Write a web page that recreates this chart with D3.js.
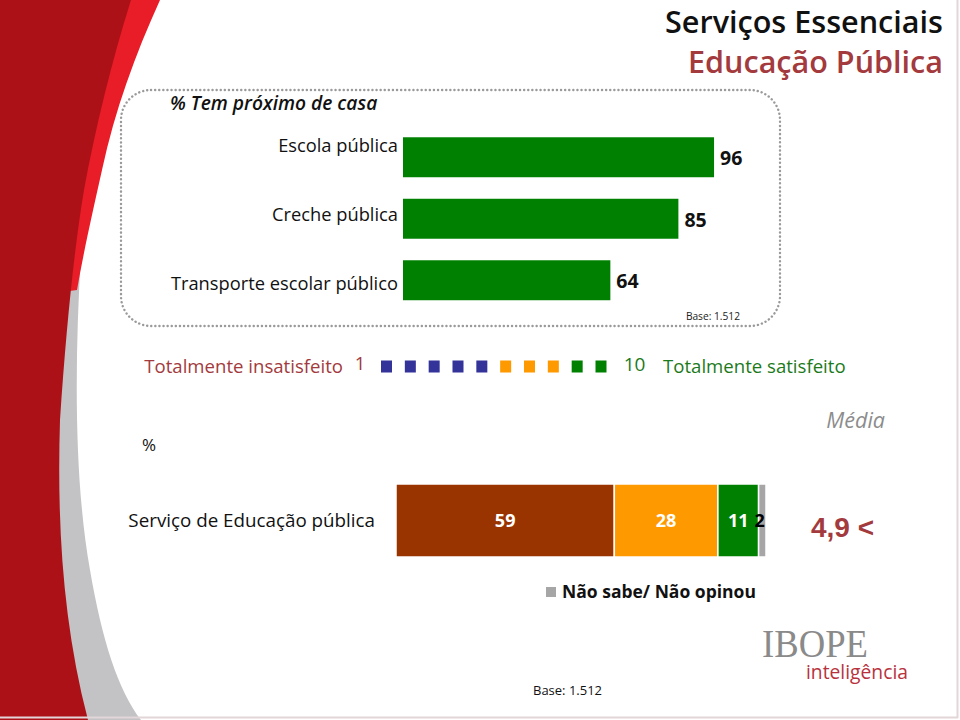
<!DOCTYPE html>
<html><head><meta charset="utf-8">
<script src="https://cdn.jsdelivr.net/npm/d3@7"></script>
<style>body{margin:0;background:#fff}svg{display:block}</style>
</head><body>
<script>
// ---- data ----
const titleLines = ["Serviços Essenciais", "Educação Pública"];
const proximityTitle = "% Tem próximo de casa";
const proximityCategories = ["Escola pública", "Creche pública", "Transporte escolar público"];
const proximityValues = [96, 85, 64];
const baseText = "Base: 1.512";
const scalePoints = [1, 2, 3, 4, 5, 6, 7, 8, 9, 10];
const scaleGroups = ["low", "low", "low", "low", "low", "mid", "mid", "mid", "high", "high"];
const scaleEnds = ["Totalmente insatisfeito", "Totalmente satisfeito"];
const satisfactionCategory = "Serviço de Educação pública";
const satisfactionSegments = ["1 a 5", "6 a 8", "9 a 10", "Não sabe/ Não opinou"];
const satisfactionValues = [59, 28, 11, 2];
const meanLabel = "Média";
const meanValue = "4,9";
const meanSignal = "<";

// ---- styles ----
const font = "'Open Sans', 'Noto Sans', sans-serif";
const groupColor = {low: "#333399", mid: "#ff9900", high: "#008000"};
const segColors = ["#993300", "#ff9900", "#008000", "#a6a6a6"];
const segText = ["#fff", "#fff", "#fff", "#000"];
const redText = "#a33a3d";
const greenText = "#1b7a1b";

const W = 960, H = 720;
const svg = d3.select("body").append("svg").attr("width", W).attr("height", H);

// ---- left decoration ----
svg.append("path").attr("fill", "#c3c3c5")
  .attr("d", "M0,200 L82,238 C74,360 74,480 90,570 C102,640 118,690 141,720 L0,720 Z");
svg.append("path").attr("fill", "#e91d27")
  .attr("d", "M0,0 L160,0 C135,55 115,110 102,170 C92,215 84,250 77,290 L0,300 Z");
svg.append("path").attr("fill", "#ad1118")
  .attr("d", "M0,0 L131,0 C112,60 95,130 84,190 C74,250 66,330 60,420 C57,520 62,620 88,720 L0,720 Z");
// slide border
svg.append("line").attr("x1", 957.5).attr("x2", 957.5).attr("y1", 0).attr("y2", 718).attr("stroke", "#e3d6d8").attr("stroke-width", 2);
svg.append("line").attr("x1", 0).attr("x2", 958).attr("y1", 717.5).attr("y2", 717.5).attr("stroke", "#e3d6d8").attr("stroke-width", 2);

// ---- title ----
svg.append("text").attr("x", 943).attr("y", 33).attr("text-anchor", "end")
  .attr("font-family", font).attr("font-size", 30).attr("font-weight", 600).attr("fill", "#111")
  .attr("textLength", 278).attr("lengthAdjust", "spacingAndGlyphs")
  .text(titleLines[0]);
svg.append("text").attr("x", 943).attr("y", 73).attr("text-anchor", "end")
  .attr("font-family", font).attr("font-size", 30).attr("font-weight", 600).attr("fill", redText)
  .attr("textLength", 255).attr("lengthAdjust", "spacingAndGlyphs")
  .text(titleLines[1]);

// ---- dotted box ----
svg.append("rect").attr("x", 121).attr("y", 90).attr("width", 659).attr("height", 236)
  .attr("rx", 30).attr("ry", 30).attr("fill", "none")
  .attr("stroke", "#9a9a9a").attr("stroke-width", 2.4).attr("stroke-dasharray", "0.1 4").attr("stroke-linecap", "round");

svg.append("text").attr("x", 170).attr("y", 110)
  .attr("font-family", font).attr("font-size", 19.2).attr("font-style", "italic").attr("font-weight", 600).attr("fill", "#111")
  .text(proximityTitle);

const xTop = d3.scaleLinear().domain([0, 100]).range([403, 727]);
const yTop = d3.scaleBand().domain(proximityCategories).range([126.5, 311]).paddingInner(0.35).paddingOuter(0.175);

const topG = svg.append("g");
topG.selectAll("rect.bar").data(proximityCategories).join("rect")
  .attr("x", xTop(0)).attr("y", d => yTop(d))
  .attr("width", (d, i) => xTop(proximityValues[i]) - xTop(0))
  .attr("height", yTop.bandwidth()).attr("fill", "#008000");
topG.selectAll("text.cat").data(proximityCategories).join("text")
  .attr("x", xTop(0) - 5)
  .attr("y", (d, i) => yTop(d) + yTop.bandwidth() / 2 - 12 + 7.5 * i)
  .attr("dy", "0.35em").attr("text-anchor", "end")
  .attr("font-family", font).attr("font-size", 18.3).attr("fill", "#111").text(d => d);
topG.selectAll("text.val").data(proximityCategories).join("text")
  .attr("x", (d, i) => xTop(proximityValues[i]) + 6)
  .attr("y", d => yTop(d) + yTop.bandwidth() / 2 + 1)
  .attr("dy", "0.35em")
  .attr("font-family", font).attr("font-size", 19.5).attr("font-weight", 700).attr("fill", "#111")
  .text((d, i) => proximityValues[i]);
svg.append("text").attr("x", 740).attr("y", 320).attr("text-anchor", "end")
  .attr("font-family", font).attr("font-size", 10.2).attr("fill", "#222").text(baseText);

// ---- scale legend ----
const xSq = d3.scalePoint().domain(scalePoints).range([386.5, 601]);
const legY = 366;
svg.append("text").attr("x", 343).attr("y", legY).attr("dy", "0.35em").attr("text-anchor", "end")
  .attr("font-family", font).attr("font-size", 18.6).attr("fill", redText).text(scaleEnds[0]);
svg.append("text").attr("x", 360).attr("y", legY - 2).attr("dy", "0.35em").attr("text-anchor", "middle")
  .attr("font-family", font).attr("font-size", 18.5).attr("fill", redText).text(scalePoints[0]);
svg.selectAll("rect.sq").data(scalePoints).join("rect")
  .attr("x", d => xSq(d) - 5.5).attr("y", legY - 5.5).attr("width", 11).attr("height", 12)
  .attr("fill", (d, i) => groupColor[scaleGroups[i]]);
svg.append("text").attr("x", 634.5).attr("y", legY - 2).attr("dy", "0.35em").attr("text-anchor", "middle")
  .attr("font-family", font).attr("font-size", 19).attr("fill", greenText).text(scalePoints[scalePoints.length - 1]);
svg.append("text").attr("x", 663).attr("y", legY).attr("dy", "0.35em")
  .attr("font-family", font).attr("font-size", 18.6).attr("fill", greenText).text(scaleEnds[1]);

svg.append("text").attr("x", 142).attr("y", 445).attr("dy", "0.35em")
  .attr("font-family", font).attr("font-size", 17).attr("fill", "#111").text("%");
svg.append("text").attr("x", 885).attr("y", 420).attr("dy", "0.35em").attr("text-anchor", "end")
  .attr("font-family", font).attr("font-size", 21.5).attr("font-style", "italic").attr("fill", "#8c8c8c").text(meanLabel);

// ---- stacked bar ----
const xSt = d3.scaleLinear().domain([0, 100]).range([396, 766]);
const yStTop = 484, yStH = 73;
let cum = 0;
const stack = satisfactionValues.map((v, i) => { const s = {i, v, x0: cum, x1: cum + v}; cum += v; return s; });
svg.selectAll("rect.seg").data(stack).join("rect")
  .attr("x", d => xSt(d.x0)).attr("y", yStTop)
  .attr("width", d => xSt(d.x1) - xSt(d.x0)).attr("height", yStH)
  .attr("fill", d => segColors[d.i]).attr("stroke", "#fff").attr("stroke-width", 1.5);
svg.selectAll("text.seg").data(stack).join("text")
  .attr("x", d => d.i === 3 ? xSt(d.x0) + 1 : (xSt(d.x0) + xSt(d.x1)) / 2)
  .attr("y", yStTop + yStH / 2).attr("dy", "0.35em")
  .attr("text-anchor", "middle")
  .attr("font-family", font).attr("font-size", 18).attr("font-weight", 700)
  .attr("fill", d => segText[d.i]).text(d => d.v);
svg.append("text").attr("x", 375).attr("y", 520).attr("dy", "0.35em").attr("text-anchor", "end")
  .attr("font-family", font).attr("font-size", 18.8).attr("fill", "#111").text(satisfactionCategory);
svg.append("text").attr("x", 811).attr("y", 527).attr("dy", "0.35em")
  .attr("font-family", "'Liberation Sans', Arial, sans-serif").attr("font-size", 28).attr("font-weight", 700)
  .attr("fill", redText).text(meanValue + " " + meanSignal);

// legend for NS/NR
svg.append("rect").attr("x", 546).attr("y", 587).attr("width", 10).attr("height", 10).attr("fill", segColors[3]);
svg.append("text").attr("x", 562).attr("y", 592).attr("dy", "0.35em")
  .attr("font-family", font).attr("font-size", 17.5).attr("font-weight", 700).attr("fill", "#111").text(satisfactionSegments[3]);

// ---- logo ----
svg.append("text").attr("x", 762).attr("y", 657)
  .attr("font-family", "'Liberation Serif', serif").attr("font-size", 39).attr("fill", "#8a8a8a")
  .attr("textLength", 106).attr("lengthAdjust", "spacingAndGlyphs").text("IBOPE");
svg.append("text").attr("x", 806).attr("y", 679)
  .attr("font-family", font).attr("font-size", 20.5).attr("fill", "#b8323e")
  .attr("textLength", 102).attr("lengthAdjust", "spacingAndGlyphs").text("inteligência");

svg.append("text").attr("x", 533).attr("y", 690).attr("dy", "0.35em")
  .attr("font-family", font).attr("font-size", 13).attr("fill", "#111").text(baseText);
</script>
</body></html>
